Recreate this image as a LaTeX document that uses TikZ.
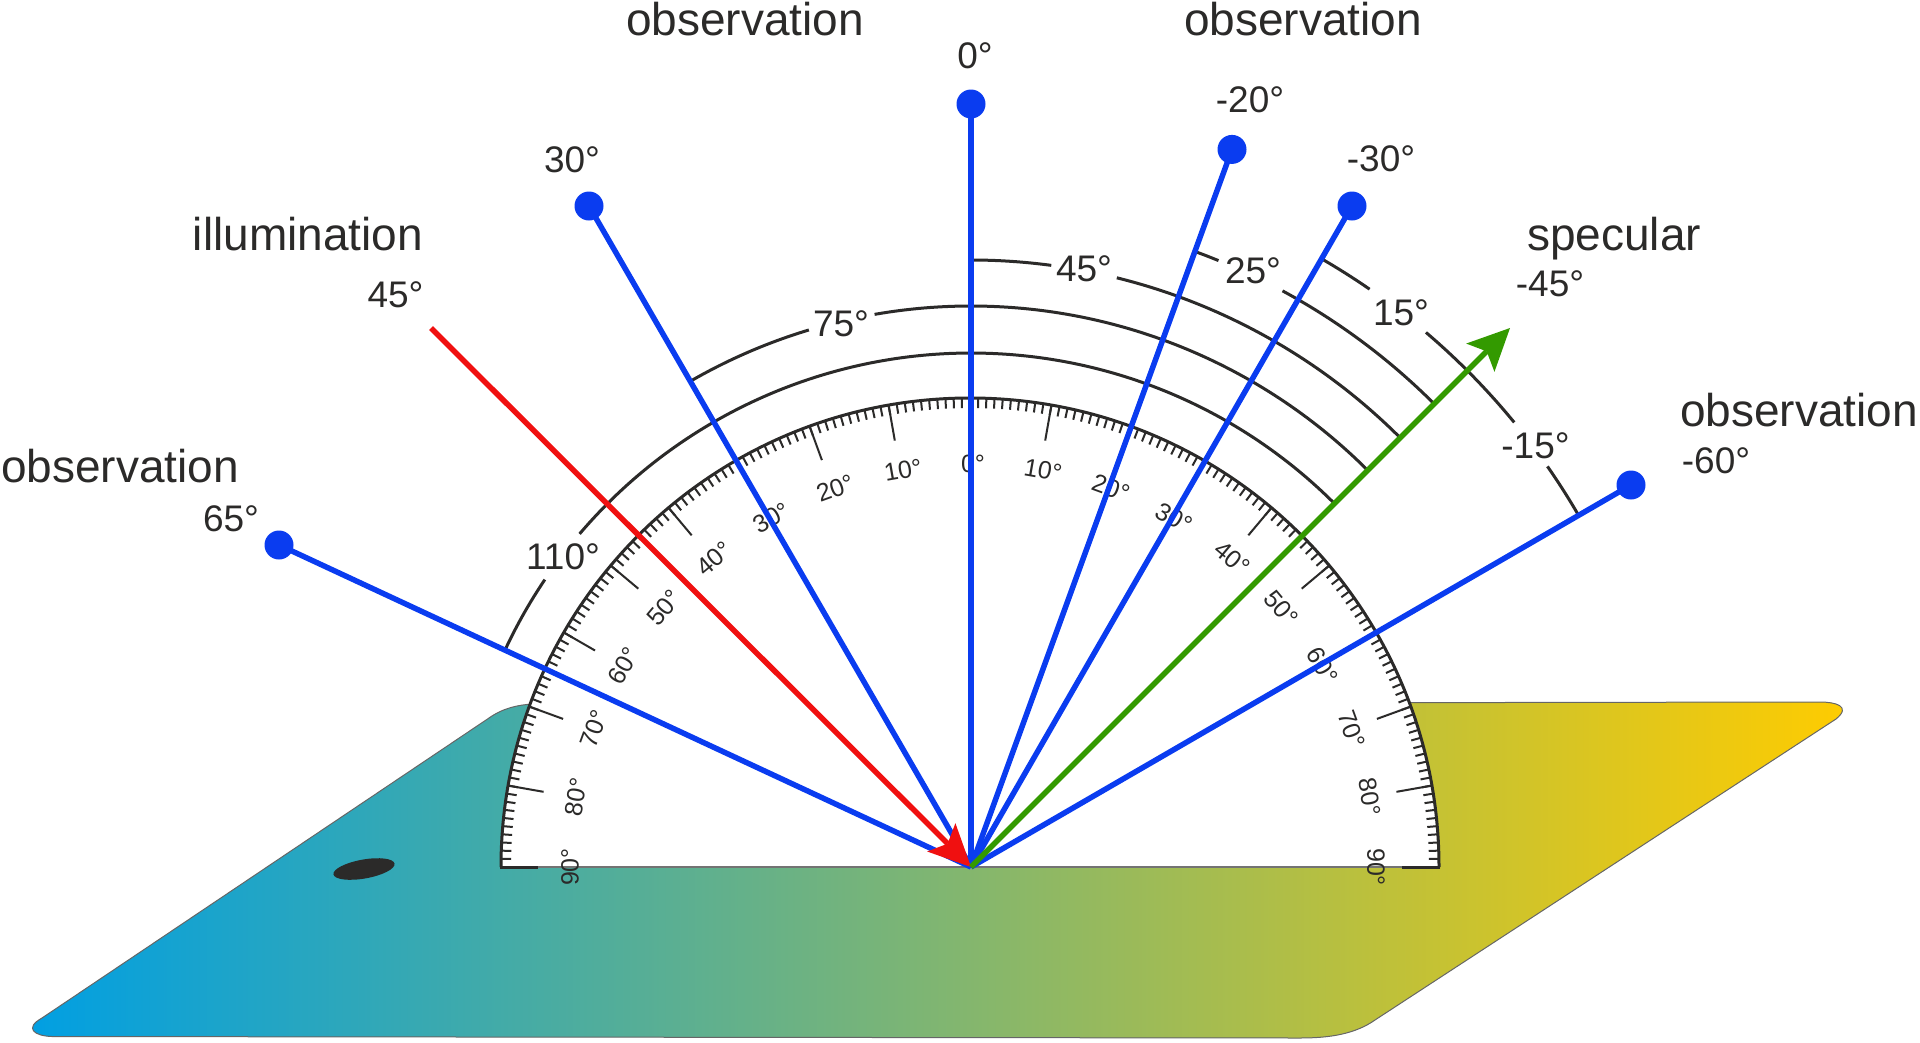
\documentclass[tikz,border=0pt]{standalone}
\usepackage{fontspec}
\setmainfont{Liberation Sans}
\usetikzlibrary{arrows.meta}
\definecolor{ink}{HTML}{2B2A29}
\definecolor{rayblue}{HTML}{0A3CF0}
\definecolor{rayred}{HTML}{F01010}
\definecolor{raygreen}{HTML}{339A00}
\definecolor{plateleft}{RGB}{0,159,227}
\definecolor{plateright}{RGB}{255,204,0}
\tikzset{
  big/.style={inner sep=0pt,anchor=base,text=ink,font=\fontsize{46}{50}\selectfont},
  mid/.style={inner sep=0pt,anchor=base,text=ink,font=\fontsize{37}{40}\selectfont},
  prot/.style={inner sep=0pt,anchor=center,text=ink,xshift=3pt,font=\fontsize{25}{27}\selectfont},
  ball/.style={circle,fill=rayblue,inner sep=0pt,minimum size=29pt},
  ray/.style={draw=rayblue,line width=5.5pt},
  head/.style={-{Stealth[length=42pt,width=40pt,inset=9pt,line width=0pt]}},
  arcline/.style={draw=ink,line width=3pt},
  tickline/.style={draw=ink,line width=2pt}
}
\newcommand{\ArcSeg}[3]{\draw[arcline] (#2-90:#1) arc[start angle=#2-90,end angle=#3-90,radius=#1];}
\begin{document}
\begin{tikzpicture}[x=1pt,y=-1pt]
\useasboundingbox (0,0) rectangle (1920,1042);
% plate
\draw[draw=black!60,line width=1pt,left color=plateleft,right color=plateright]
  (52,1036.5) .. controls (34,1036) and (24,1028) .. (42,1018) -- (489,718)
  .. controls (503,708) and (518,705) .. (532,704) -- (1820,702)
  .. controls (1835,702) and (1852,706) .. (1836,719) -- (1375,1020)
  .. controls (1355,1034) and (1330,1038) .. (1300,1038) -- cycle;
\fill[ink,rotate around={10:(364,869)}] (364,869) ellipse[x radius=31,y radius=9.5];
\coordinate (c) at (971,867);
\begin{scope}[shift={(970,867)}]
  \fill[white] (-180:469) arc[start angle=-180,end angle=0,radius=469] -- cycle;
  \draw[draw=black!55,line width=1.5pt] (-180:469) -- (0:469);
  \draw[arcline] (-180:469) arc[start angle=-180,end angle=0,radius=469];
  \foreach \t in {-90,-89,...,90} {\draw[tickline] (\t-90:469) -- (\t-90:459);}
  \foreach \t in {-80,-70,...,80} {\draw[tickline] (\t-90:469) -- (\t-90:433);}
  \draw[draw=ink,line width=3pt] (-180:470) -- (-180:432) (0:470) -- (0:432);
  \foreach \t in {0,10,...,90} {
    \node[prot,rotate=-\t] (pr\t) at (\t-90:403) {\t°};
    \ifnum\t>0 \node[prot,rotate=\t] (pl\t) at (-\t-90:403) {\t°}; \fi
  }
\end{scope}
\begin{scope}[shift={(971,867)}]
  % measure arcs
  \ArcSeg{514}{-65}{-56}
  \ArcSeg{514}{-49.6}{45}
  \ArcSeg{561}{-30}{-16.8}
  \ArcSeg{561}{-9.9}{45}
  \ArcSeg{607}{0}{7.6}
  \ArcSeg{607}{13.9}{45}
  \ArcSeg{655}{20}{22.2}
  \ArcSeg{655}{28.4}{45}
  \ArcSeg{702}{30}{34.6}
  \ArcSeg{702}{40.4}{50.7}
  \ArcSeg{702}{55.2}{60}
\end{scope}
% end points
\node[ball] (b65) at (279,545) {};
\node[ball] (b30) at (589,206) {};
\node[ball] (b0) at (971,104) {};
\node[ball] (bm20) at (1232,149.4) {};
\node[ball] (bm30) at (1352,206) {};
\node[ball] (bm60) at (1631,485) {};
\coordinate (src) at (431,328);
\coordinate (spec) at (1510,328);
% rays
\foreach \b in {b65,b30,b0,bm20,bm30,bm60} {\draw[ray] (c) -- (\b.center);}
\draw[draw=rayred,line width=5.5pt,head] (src) -- (c);
\draw[draw=raygreen,line width=5.5pt,head] (c) -- (spec);
% labels
\node[big] (obsa) at (745,35) {observation};
\node[big] (obsb) at (1303,35) {observation};
\node[big] (obsc) at (1799,426) {observation};
\node[big] (obsd) at (120,482) {observation};
\node[big] (illu) at (308,250) {illumination};
\node[big] (spc) at (1614,250) {specular};
\node[mid] (l0) at (975,68) {0°};
\node[mid] (lm20) at (1250,112) {-20°};
\node[mid] (lm30) at (1381,171) {-30°};
\node[mid] (l30) at (572,172) {30°};
\node[mid] (l45) at (395.5,307) {45°};
\node[mid] (lm45) at (1550,296) {-45°};
\node[mid] (lm60) at (1716,473) {-60°};
\node[mid] (lm15) at (1535.5,458) {-15°};
\node[mid] (l15) at (1401,325) {15°};
\node[mid] (l25) at (1253,283) {25°};
\node[mid] (la45) at (1084,281) {45°};
\node[mid] (l75) at (841,336) {75°};
\node[mid] (l110) at (563,569) {110°};
\node[mid] (l65) at (231,531) {65°};
\end{tikzpicture}
\end{document}
